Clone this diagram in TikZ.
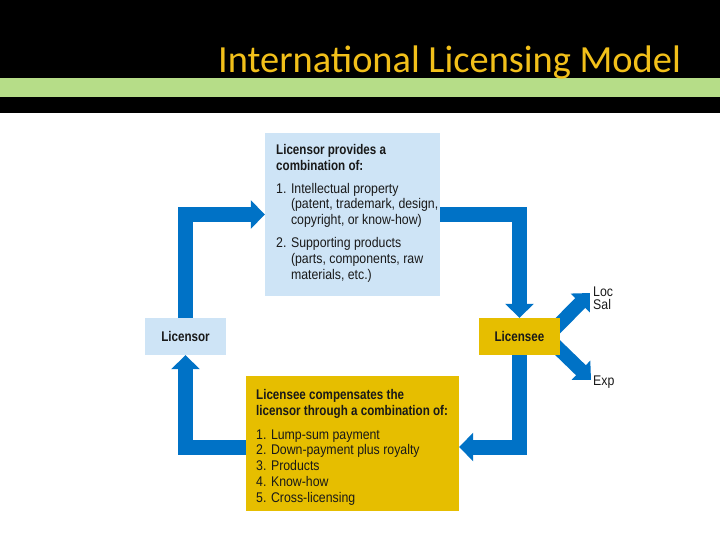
\documentclass[tikz,border=0pt]{standalone}
\usepackage{fontspec}
\usetikzlibrary{arrows.meta}
\newfontfamily\condfont[FakeStretch=0.88,BoldFeatures={FakeStretch=0.83}]{Liberation Sans}
\newfontfamily\titlefont{Carlito}
\definecolor{arrowblue}{RGB}{0,114,198}
\definecolor{boxblue}{RGB}{206,228,246}
\definecolor{boxyellow}{RGB}{230,190,0}
\definecolor{bandgreen}{RGB}{182,221,136}
\definecolor{titleyellow}{RGB}{242,192,26}
\definecolor{txt}{RGB}{25,25,25}
\pgfdeclarelayer{background}
\pgfsetlayers{background,main}
\tikzset{
  bigarrow/.style={draw=arrowblue, line width=15pt, line join=miter,
    -{Triangle[width=28pt,length=14pt]}},
  diagarrow/.style={draw=arrowblue, line width=14pt, line join=miter,
    -{Triangle[width=26pt,length=14pt]}},
  panel/.style={rectangle, draw=none, inner sep=0pt},
  bodytext/.style={inner sep=0pt, align=left, text=txt,
    font=\condfont\fontsize{14}{16}\selectfont},
  listtext/.style={inner sep=0pt, align=left, text=txt,
    font=\condfont\fontsize{14}{15.75}\selectfont},
  sidetext/.style={inner sep=0pt, align=left, text=txt,
    font=\condfont\fontsize{14}{13}\selectfont},
  headtext/.style={inner sep=0pt, align=left, text=txt,
    font=\condfont\bfseries\fontsize{14}{16}\selectfont},
  labeltext/.style={inner sep=0pt, text=txt,
    font=\condfont\bfseries\fontsize{14}{16}\selectfont}
}
\begin{document}
\begin{tikzpicture}[x=1pt,y=-1pt]
\useasboundingbox (0,0) rectangle (720,540);
% header
\fill[black] (0,0) rectangle (720,113);
\fill[bandgreen] (0,78) rectangle (720,97);
\node[anchor=base west, inner sep=0pt, text=titleyellow,
  font=\titlefont\fontsize{38.4}{40}\selectfont] (title) at (218,73) {International Licensing Model};

% boxes
\node[panel, fill=boxblue, minimum width=175pt, minimum height=163pt] (topbox) at (352.5,214.5) {};
\node[panel, fill=boxyellow, minimum width=213pt, minimum height=135pt] (bottombox) at (352.5,443.5) {};
\node[panel, fill=boxblue, minimum width=81pt, minimum height=37pt] (licensor) at (185.5,336.5) {};
\node[panel, fill=boxyellow, minimum width=81pt, minimum height=37pt] (licensee) at (519.5,336.5) {};

\node[labeltext] (licensorlabel) at (licensor.center) {Licensor};
\node[labeltext] (licenseelabel) at (licensee.center) {Licensee};

% top box text (anchor = baseline of the last line)
\node[headtext, anchor=base west] (th) at (276,171) {Licensor provides a\\combination of:};
\node[bodytext, anchor=base west] (t1) at (276,225) {1. Intellectual property\\\hphantom{1. }(patent, trademark, design,\\\hphantom{1. }copyright, or know-how)};
\node[bodytext, anchor=base west] (t2) at (276,279) {2. Supporting products\\\hphantom{2. }(parts, components, raw\\\hphantom{2. }materials, etc.)};

% bottom box text
\node[headtext, anchor=base west] (bh) at (256,415) {Licensee compensates the\\licensor through a combination of:};
\node[listtext, anchor=base west] (b1) at (256,502) {1. Lump-sum payment\\2. Down-payment plus royalty\\3. Products\\4. Know-how\\5. Cross-licensing};

% right labels
\coordinate (localtip) at (590,293);
\coordinate (exporttip) at (591,380);
\node[sidetext, anchor=base west] (loc) at (593,309) {Loc\\Sal};
\node[sidetext, anchor=base west] (exp) at (593,385) {Exp};

\begin{pgfonlayer}{background}
\draw[bigarrow] (licensor.north) |- (topbox.west);
\draw[bigarrow] (topbox.east) -| (licensee.north);
\draw[bigarrow] (licensee.south) |- ([shift={(0,3.5)}]bottombox.east);
\draw[bigarrow] ([shift={(0,3.5)}]bottombox.west) -| (licensor.south);
\draw[diagarrow] ([shift={(-12,-1)}]licensee.east) -- (localtip);
\draw[diagarrow] ([shift={(-12,2)}]licensee.east) -- (exporttip);
\end{pgfonlayer}
\end{tikzpicture}
\end{document}
